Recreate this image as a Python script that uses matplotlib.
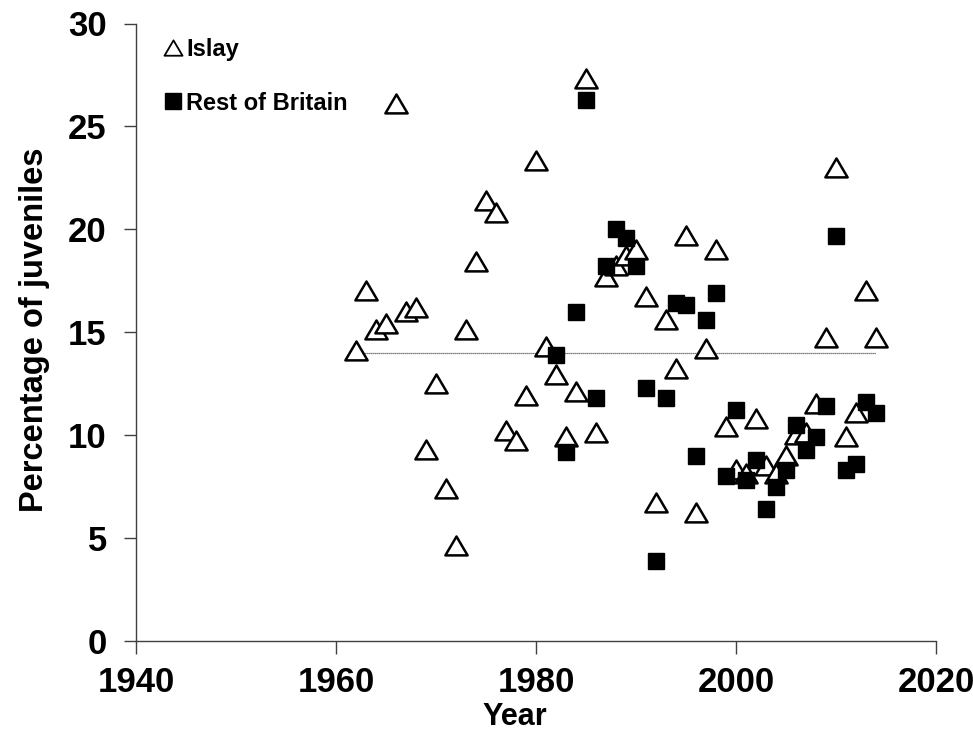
import matplotlib
import matplotlib.pyplot as plt
from matplotlib.lines import Line2D
from matplotlib.path import Path

matplotlib.use("Agg")

plt.rcParams["font.family"] = ["Liberation Sans", "DejaVu Sans"]
plt.rcParams["font.weight"] = "bold"

# Islay, 1962-2014
islay_years = list(range(1962, 2015))
islay_pct = [
    14.1, 17.0, 15.1, 15.4, 26.1, 16.0, 16.2, 9.3, 12.5, 7.4,
    4.6, 15.1, 18.4, 21.4, 20.8, 10.2, 9.7, 11.9, 23.3, 14.3,
    12.9, 9.9, 12.1, 27.3, 10.1, 17.7, 18.2, 18.7, 19.0, 16.7,
    6.7, 15.6, 13.2, 19.7, 6.2, 14.2, 19.0, 10.4, 8.3, 8.1,
    10.8, 8.5, 8.1, 9.0, 10.0, 10.1, 11.5, 14.7, 23.0, 9.9,
    11.1, 17.0, 14.7,
]

# Rest of Britain, 1982-2014
rob_years = list(range(1982, 2015))
rob_pct = [
    13.9, 9.2, 16.0, 26.3, 11.8, 18.2, 20.0, 19.6, 18.2, 12.3,
    3.9, 11.8, 16.4, 16.3, 9.0, 15.6, 16.9, 8.0, 11.2, 7.8,
    8.8, 6.4, 7.5, 8.3, 10.5, 9.3, 9.9, 11.4, 19.7, 8.3,
    8.6, 11.6, 11.1,
]

mean_years = [1962, 2014]
mean_pct = [14.0, 14.0]

tri = Path([(-1, -0.8), (1, -0.8), (0, 0.9), (-1, -0.8)], closed=True)

fig = plt.figure(figsize=(9.73, 7.31), dpi=100)
ax = fig.add_axes([136 / 973, 1 - 641 / 731, 800 / 973, 617.5 / 731])

ax.plot(mean_years, mean_pct, color="#555555", linestyle=(0, (1, 0.6)), linewidth=0.9, zorder=1)
ax.plot(islay_years, islay_pct, linestyle="none", marker=tri, markersize=16,
        markerfacecolor="white", markeredgecolor="black", markeredgewidth=1.8, zorder=2)
ax.plot(rob_years, rob_pct, linestyle="none", marker="s", markersize=11,
        markerfacecolor="black", markeredgecolor="black", zorder=3)

ax.set_xlim(1940, 2020)
ax.set_ylim(0, 30)
ax.set_xticks([1940, 1960, 1980, 2000, 2020])
ax.set_yticks([0, 5, 10, 15, 20, 25, 30])

for side in ["top", "right"]:
    ax.spines[side].set_visible(False)
for side in ["left", "bottom"]:
    ax.spines[side].set_color("#404040")
    ax.spines[side].set_linewidth(1.0)
ax.tick_params(direction="out", length=9, width=1.0, color="#404040", labelsize=25)
ax.tick_params(axis="y", pad=12)
ax.tick_params(axis="x", pad=9)
for lbl in ax.get_xticklabels() + ax.get_yticklabels():
    lbl.set_fontweight("bold")

ax.set_xlabel("Year", fontsize=22, fontweight="bold")
ax.xaxis.set_label_coords((515 - 136) / 800, -(702 - 641) / 617.5)
ax.set_ylabel("Percentage of juveniles", fontsize=23.5, fontweight="bold")
ax.yaxis.set_label_coords(-(136 - 50) / 800, (641 - 330) / 617.5)

handles = [
    Line2D([], [], linestyle="none", marker=tri, markersize=13, markerfacecolor="white",
           markeredgecolor="black", markeredgewidth=1.3),
    Line2D([], [], linestyle="none", marker="s", markersize=11, markerfacecolor="black",
           markeredgecolor="black"),
]
fig.legend(handles, ["Islay", "Rest of Britain"], loc="upper left",
           bbox_to_anchor=(165 / 973, 1 - 38 / 731), frameon=False,
           prop={"weight": "bold", "size": 17}, borderpad=0, borderaxespad=0,
           handlelength=0.7, handletextpad=0.2, labelspacing=1.3)

fig.savefig("out.png", dpi=100)
